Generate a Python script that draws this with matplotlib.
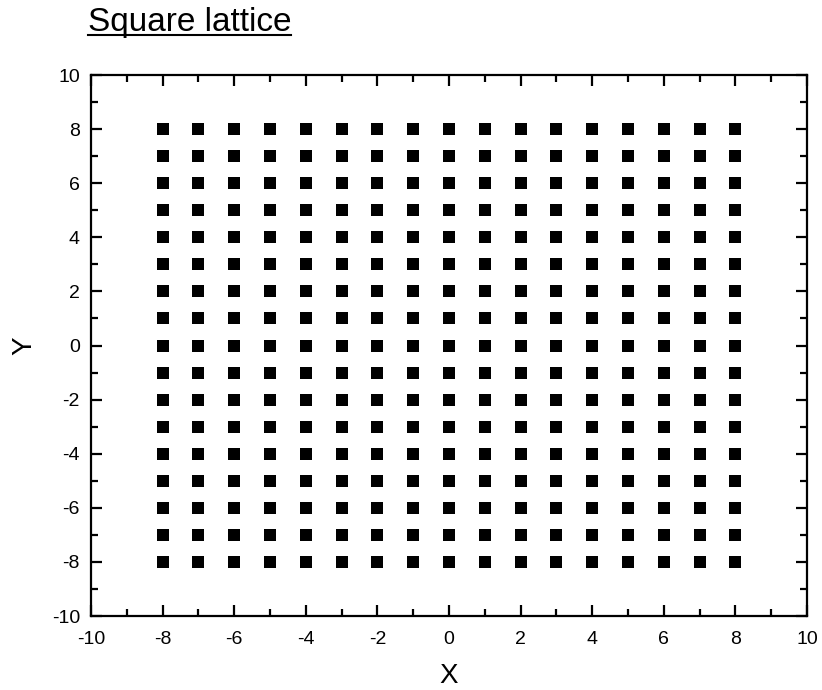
import numpy as np
import matplotlib
matplotlib.use("Agg")
import matplotlib.pyplot as plt
from matplotlib.lines import Line2D
from matplotlib.ticker import MultipleLocator

plt.rcParams['font.family'] = ['Liberation Sans', 'DejaVu Sans']

# lattice sites, integer coordinates from -8 to 8
x_sites = [-8, -7, -6, -5, -4, -3, -2, -1, 0, 1, 2, 3, 4, 5, 6, 7, 8]
y_sites = [-8, -7, -6, -5, -4, -3, -2, -1, 0, 1, 2, 3, 4, 5, 6, 7, 8]
ticks = [-10, -8, -6, -4, -2, 0, 2, 4, 6, 8, 10]

xx, yy = np.meshgrid(x_sites, y_sites)

fig = plt.figure(figsize=(8.22, 6.9), dpi=100)
ax = fig.add_axes([0.1107, 0.1072, 0.8711, 0.7841])

ax.plot(xx.ravel(), yy.ravel(), 's', color='black', markersize=8.6,
        markeredgewidth=0, linestyle='none')

ax.set_xlim(-10, 10)
ax.set_ylim(-10, 10)
ax.set_xticks(ticks)
ax.set_yticks(ticks)
ax.set_xticklabels([str(t) for t in ticks])
ax.set_yticklabels([str(t) for t in ticks])
ax.xaxis.set_minor_locator(MultipleLocator(1))
ax.yaxis.set_minor_locator(MultipleLocator(1))

for s in ax.spines.values():
    s.set_linewidth(1.6)
ax.tick_params(which='both', direction='in', top=True, right=True,
               width=1.6, labelsize=14)
ax.tick_params(axis='x', which='major', length=8, pad=10.5)
ax.tick_params(axis='y', which='major', length=8, pad=8)
ax.tick_params(which='minor', length=5)

ax.set_xlabel('X', fontsize=20)
ax.set_ylabel('Y', fontsize=20)
ax.xaxis.set_label_coords(0.5, -0.086)
ax.yaxis.set_label_coords(-0.075, 0.5)

# title with underline
ty = 1 - 31 / 690
title = fig.text(0.107, ty, 'Square lattice', fontsize=24,
                 ha='left', va='baseline')
fig.canvas.draw()
bb = title.get_window_extent().transformed(fig.transFigure.inverted())
uy = ty - 3.5 / 690
fig.add_artist(Line2D([bb.x0, bb.x1], [uy, uy], transform=fig.transFigure,
                      color='black', linewidth=1.5))

fig.savefig('out.png', dpi=100)
